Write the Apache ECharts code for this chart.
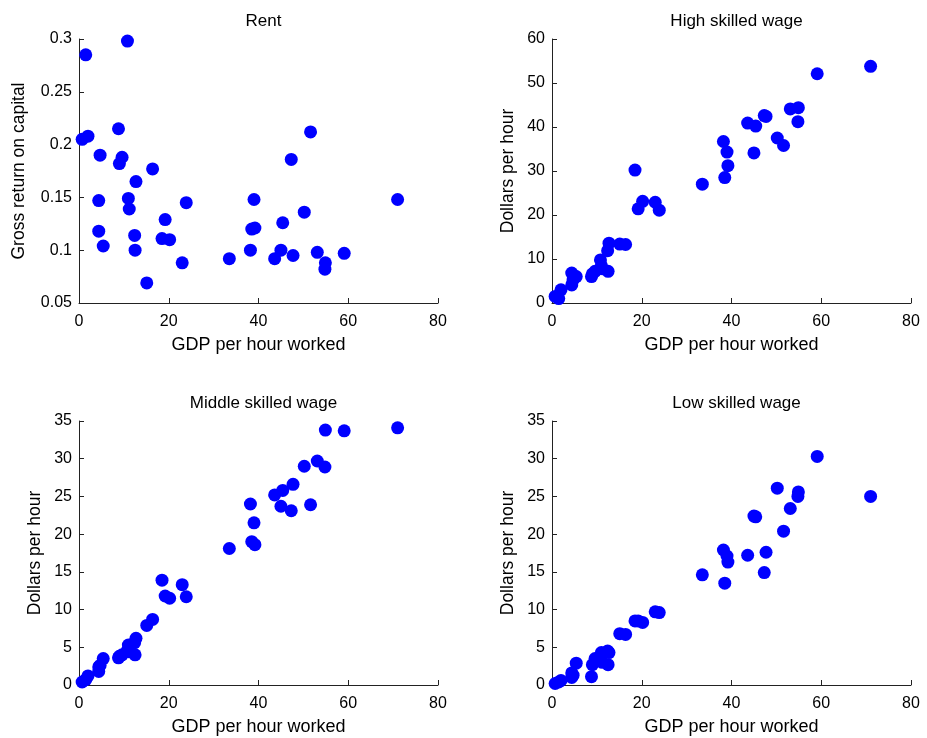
<!DOCTYPE html>
<html>
<head>
<meta charset="utf-8">
<script src="https://cdn.jsdelivr.net/npm/echarts@6/dist/echarts.min.js"></script>
<style>html,body{margin:0;padding:0;background:#fff}#c{width:927px;height:738px}</style>
</head>
<body>
<div id="c"></div>
<script>
const gdp = [0.7,1.5,2.0,4.4,4.4,4.7,5.4,8.8,9.0,9.6,10.8,11.0,11.2,12.4,12.5,12.7,15.1,16.4,18.5,19.2,20.2,23.0,23.9,33.5,38.2,38.5,39.0,39.2,43.6,45.0,45.4,47.3,47.7,50.2,51.6,53.1,54.8,54.9,59.1,71.0];
const rent = [0.205,0.285,0.208,0.147,0.118,0.190,0.104,0.215,0.182,0.188,0.298,0.149,0.139,0.114,0.100,0.165,0.069,0.177,0.111,0.129,0.110,0.088,0.145,0.092,0.100,0.120,0.148,0.121,0.092,0.100,0.126,0.186,0.095,0.136,0.212,0.098,0.082,0.088,0.097,0.148];
const highWage = [1.5,1.0,3.0,6.8,4.1,5.2,6.0,6.0,6.6,7.2,9.8,8.5,7.8,11.9,7.2,13.6,13.4,13.3,30.2,21.4,23.1,22.9,21.1,27.0,36.7,28.5,34.3,31.2,40.9,34.1,40.2,42.6,42.4,37.5,35.8,44.1,41.2,44.4,52.1,53.8];
const middleWage = [0.4,0.7,1.2,2.4,1.8,2.6,3.5,3.6,3.8,4.0,4.6,5.3,4.4,5.6,4.0,6.2,7.9,8.7,13.9,11.8,11.5,13.3,11.7,18.1,24.0,19.0,21.5,18.6,25.2,23.7,25.8,23.1,26.6,29.0,23.9,29.7,28.9,33.8,33.7,34.1];
const lowWage = [0.2,0.4,0.6,1.6,1.0,1.3,2.9,1.1,2.7,3.5,3.8,4.3,3.0,4.5,2.7,4.3,6.8,6.7,8.5,8.5,8.3,9.7,9.6,14.6,17.9,13.5,17.1,16.3,17.2,22.4,22.3,14.9,17.6,26.1,20.4,23.4,25.0,25.6,30.3,25.0];

const titles = ['Rent','High skilled wage','Middle skilled wage','Low skilled wage'];
const yNames = ['Gross return on capital','Dollars per hour','Dollars per hour','Dollars per hour'];
const yRanges = [[0.05,0.3,0.05],[0,60,10],[0,35,5],[0,35,5]];
const xRange = [0,80,20];
const xName = 'GDP per hour worked';
const seriesY = [rent, highWage, middleWage, lowWage];

const FONT = 'Liberation Sans, Arial, sans-serif';
const grids = [
  {left:79, top:39, width:359, height:264},
  {left:552, top:39, width:359, height:264},
  {left:79, top:421, width:359, height:264},
  {left:552, top:421, width:359, height:264}
];
const yGaps = [51, 35, 35, 35];
const axisLine = {show:true, lineStyle:{color:'#222', width:1}};
const axisTick = {show:true, inside:true, length:5, lineStyle:{color:'#222'}};
const labelStyle = {color:'#000', fontSize:16, fontFamily:FONT};

const option = {
  backgroundColor:'#fff',
  animation:false,
  title: grids.map((g,i)=>({
    text: titles[i],
    left: g.left + g.width/2,
    top: g.top - 31,
    textAlign:'center',
    textStyle:{fontSize:17, fontWeight:'normal', color:'#000', fontFamily:FONT}
  })),
  grid: grids,
  xAxis: grids.map((g,i)=>({
    type:'value', gridIndex:i, min:xRange[0], max:xRange[1], interval:xRange[2],
    name:xName, nameLocation:'middle', nameGap:33,
    nameTextStyle:{fontSize:18, color:'#000', fontFamily:FONT},
    axisLine, axisTick, splitLine:{show:false},
    axisLabel:{...labelStyle, margin:11}
  })),
  yAxis: grids.map((g,i)=>({
    type:'value', gridIndex:i, min:yRanges[i][0], max:yRanges[i][1], interval:yRanges[i][2],
    name:yNames[i], nameLocation:'middle', nameGap:yGaps[i], nameRotate:90,
    nameTextStyle:{fontSize:17.5, color:'#000', fontFamily:FONT},
    axisLine, axisTick, splitLine:{show:false},
    axisLabel:{...labelStyle, margin:7, formatter:v=>String(+v.toFixed(2))}
  })),
  series: seriesY.map((ys,i)=>({
    type:'scatter', xAxisIndex:i, yAxisIndex:i,
    symbol:'circle', symbolSize:13,
    itemStyle:{color:'#0000FF', opacity:1},
    data: gdp.map((x,k)=>[x, ys[k]])
  }))
};
echarts.init(document.getElementById('c')).setOption(option);
</script>
</body>
</html>
